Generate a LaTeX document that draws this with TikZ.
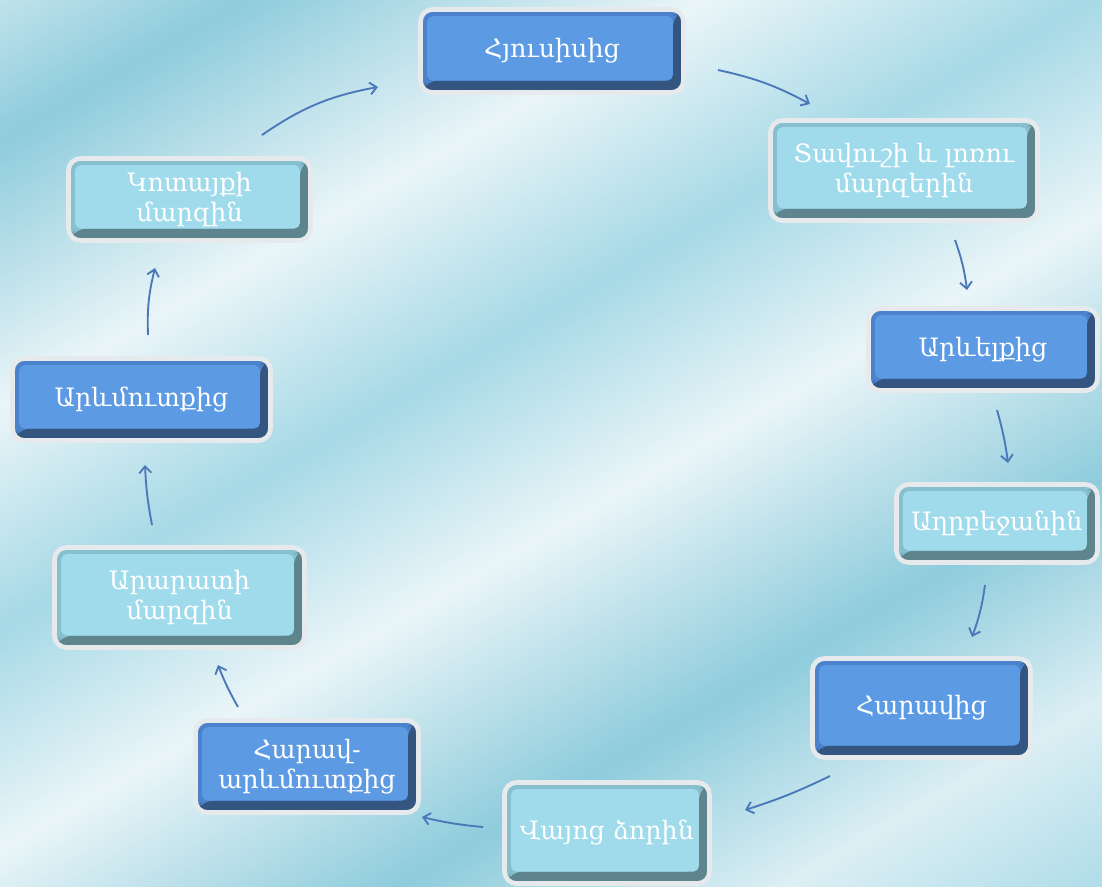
\documentclass[tikz,border=0pt]{standalone}
\usepackage{fontspec}
\setmainfont{DejaVu Serif}
\usetikzlibrary{arrows.meta,calc}

\definecolor{darkfill}{HTML}{5C9BE4}
\definecolor{darkmid}{HTML}{4B82CB}
\definecolor{darkedge}{HTML}{34557F}
\definecolor{lightfill}{HTML}{A0DBEC}
\definecolor{lightmid}{HTML}{86BFCE}
\definecolor{lightedge}{HTML}{5E848E}
\definecolor{ringcol}{HTML}{E6EAEC}
\definecolor{arrcol}{HTML}{4A78B8}
\definecolor{bgA}{HTML}{DCEFF4}
\definecolor{bgB}{HTML}{A6D9E6}
\definecolor{bgC}{HTML}{EAF5F8}
\definecolor{bgD}{HTML}{8ECCDC}

\pgfdeclarehorizontalshading{stripes}{100bp}{color(0bp)=(bgA); color(14bp)=(bgB); color(24bp)=(bgA);
  color(34bp)=(bgD); color(46bp)=(bgC); color(56bp)=(bgB); color(66bp)=(bgC); color(78bp)=(bgD);
  color(88bp)=(bgA); color(100bp)=(bgB)}

\tikzset{
  bevel/.style 2 args={path picture={
    \fill[#2] (path picture bounding box.north east) -- (path picture bounding box.south east)
      -- (path picture bounding box.south west) -- ([shift={(5pt,9pt)}]path picture bounding box.south west)
      -- ([shift={(-8pt,9pt)}]path picture bounding box.south east)
      -- ([shift={(-8pt,-5pt)}]path picture bounding box.north east) -- cycle;
    \fill[#1, rounded corners=4pt] ([shift={(5pt,-5pt)}]path picture bounding box.north west)
      rectangle ([shift={(-8pt,9pt)}]path picture bounding box.south east);
  }}
}

\begin{document}
\begin{tikzpicture}[x=0.75pt,y=-0.75pt,
  every node/.style={font=\fontsize{19}{22.5}\selectfont, text=white, align=center,
    rounded corners=9pt, inner sep=0pt},
  darkbox/.style={fill=darkmid, bevel={darkfill}{darkedge}, draw=ringcol, line width=3.5pt},
  lightbox/.style={fill=lightmid, bevel={lightfill}{lightedge}, draw=ringcol, line width=3.5pt},
  boxsize/.style 2 args={minimum width=#1*0.75pt, minimum height=#2*0.75pt},
  arr/.style={-{Straight Barb[length=5pt,width=9pt]}, draw=arrcol, line width=1.4pt}
]
\useasboundingbox (0,0) rectangle (1102,886);
\fill[shading=stripes, shading angle=120] (0,0) rectangle (1102,886);

% regions round the centre
\node[darkbox, boxsize={263}{83}] (n1) at (552,51) {Հյուսիսից};
\node[lightbox, boxsize={267}{100}] (n2) at (904,170.5) {Տավուշի և լոռու\\մարզերին};
\node[darkbox, boxsize={229}{82}] (n3) at (983,349.5) {Արևելքից};
\node[lightbox, boxsize={201}{78}] (n4) at (997,523.5) {Աղրբեջանին};
\node[darkbox, boxsize={218}{99}] (n5) at (921.5,708) {Հարավից};
\node[lightbox, boxsize={205}{101}] (n6) at (607,833) {Վայոց ձորին};
\node[darkbox, boxsize={223}{92}] (n7) at (307,766.5) {Հարավ-\\արևմուտքից};
\node[lightbox, boxsize={250}{100}] (n8) at (179.5,597.5) {Արարատի\\մարզին};
\node[darkbox, boxsize={258}{82}] (n9) at (141.5,399.5) {Արևմուտքից};
\node[lightbox, boxsize={242}{82}] (n10) at (189.5,199.5) {Կոտայքի\\մարզին};

% arrows
\draw[arr] ($(n10)+(72.5,-64.5)$) to[bend left=12] ($(n1)+(-174,36)$);
\draw[arr] ($(n1)+(166,19)$) to[bend left=8] ($(n2)+(-94,-66.5)$);
\draw[arr] ($(n2)+(51,69.5)$) to[bend left=6] ($(n3)+(-16,-59.5)$);
\draw[arr] ($(n3)+(14,60.5)$) to[bend left=4] ($(n4)+(11,-60.5)$);
\draw[arr] ($(n4)+(-12,61.5)$) to[bend left=6] ($(n5)+(50.5,-71)$);
\draw[arr] ($(n5)+(-91.5,68)$) to[bend left=4] ($(n6)+(138,-23)$);
\draw[arr] ($(n6)+(-124,-6)$) to[bend left=4] ($(n7)+(115,50.5)$);
\draw[arr] ($(n7)+(-69,-59.5)$) to[bend left=4] ($(n8)+(38.5,67.5)$);
\draw[arr] ($(n8)+(-27.5,-72.5)$) to[bend left=4] ($(n9)+(3.5,65.5)$);
\draw[arr] ($(n9)+(6.5,-64.5)$) to[bend left=8] ($(n10)+(-34.5,68.5)$);
\end{tikzpicture}
\end{document}
